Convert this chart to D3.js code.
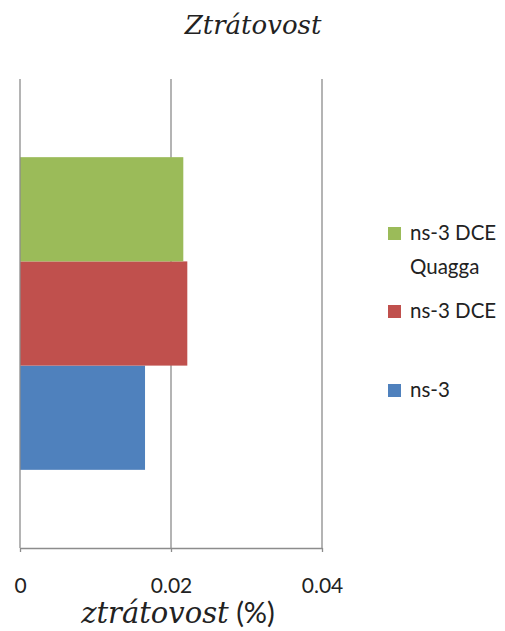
<!DOCTYPE html>
<html><head><meta charset="utf-8">
<script src="https://cdn.jsdelivr.net/npm/d3@7"></script>
<style>body{margin:0;background:#fff}</style>
</head><body>
<svg id="c" width="505" height="631"></svg>
<script>
const categories = [""];
const seriesNames = ["ns-3", "ns-3 DCE", "ns-3 DCE Quagga"];
const seriesValues = [0.01656, 0.02216, 0.02163];
const seriesColors = ["#4F81BD", "#C0504D", "#9BBB59"];
const tickValues = [0, 0.02, 0.04];
const tickLabels = ["0", "0.02", "0.04"];

const svg = d3.select("#c");
const x = d3.scaleLinear().domain([0, 0.04]).range([20, 322]);
const y = d3.scaleBand().domain(categories).range([79, 548]).paddingInner(0.2).paddingOuter(0.2);
const ys = d3.scaleBand().domain(seriesNames.slice().reverse()).range([y(""), y("") + y.bandwidth()]);

// gridlines
svg.append("g").selectAll("line").data(tickValues.slice(1)).join("line")
  .attr("x1", d => x(d)).attr("x2", d => x(d)).attr("y1", 79).attr("y2", 548)
  .attr("stroke", "#8c8c8c").attr("stroke-width", 1.3);

// bars
svg.append("g").selectAll("rect").data(seriesNames).join("rect")
  .attr("x", x(0)).attr("y", d => ys(d)).attr("height", ys.bandwidth())
  .attr("width", (d, i) => x(seriesValues[i]) - x(0)).attr("fill", (d, i) => seriesColors[i]);

// left axis line
svg.append("line").attr("x1", x(0)).attr("x2", x(0)).attr("y1", 79).attr("y2", 548)
  .attr("stroke", "#8c8c8c").attr("stroke-width", 1.3);

// bottom axis
const ax = svg.append("g").attr("transform", "translate(0,548)")
  .call(d3.axisBottom(x).tickValues(tickValues).tickFormat((d, i) => tickLabels[i]).tickSizeInner(4).tickSizeOuter(0).tickPadding(26));
ax.select(".domain").attr("stroke", "#8c8c8c").attr("stroke-width", 1.3);
ax.selectAll(".tick line").attr("stroke", "#8c8c8c").attr("stroke-width", 1.3);
ax.selectAll(".tick text").attr("font-family", "Lato, 'Open Sans', sans-serif").attr("font-size", 21).attr("fill", "#222");

// title
svg.append("text").attr("x", 253).attr("y", 34).attr("text-anchor", "middle")
  .attr("font-family", "'DejaVu Serif', serif").attr("font-style", "italic").attr("font-size", 26).attr("fill", "#222")
  .text("Ztrátovost");

// axis title
const at = svg.append("text").attr("x", 178).attr("y", 623).attr("text-anchor", "middle")
  .attr("font-family", "'DejaVu Serif', serif").attr("font-size", 29).attr("fill", "#222");
at.append("tspan").attr("font-style", "italic").text("ztrátovost");
at.append("tspan").attr("font-family", "Lato, 'Open Sans', sans-serif").attr("font-size", 29).text(" (%)");

// legend
const legendOrder = [2, 1, 0];
const legendY = [227, 305, 384];
const lg = svg.append("g").attr("font-family", "Lato, 'Open Sans', sans-serif").attr("font-size", 20.5).attr("fill", "#222");
legendOrder.forEach((si, k) => {
  lg.append("rect").attr("x", 388).attr("y", legendY[k]).attr("width", 13).attr("height", 13).attr("fill", seriesColors[si]);
  const name = seriesNames[si];
  const lines = name === "ns-3 DCE Quagga" ? ["ns-3 DCE", "Quagga"] : [name];
  lines.forEach((ln, j) => {
    lg.append("text").attr("x", 410).attr("y", legendY[k] + 13 + j * 34).text(ln);
  });
});
</script>
</body></html>
